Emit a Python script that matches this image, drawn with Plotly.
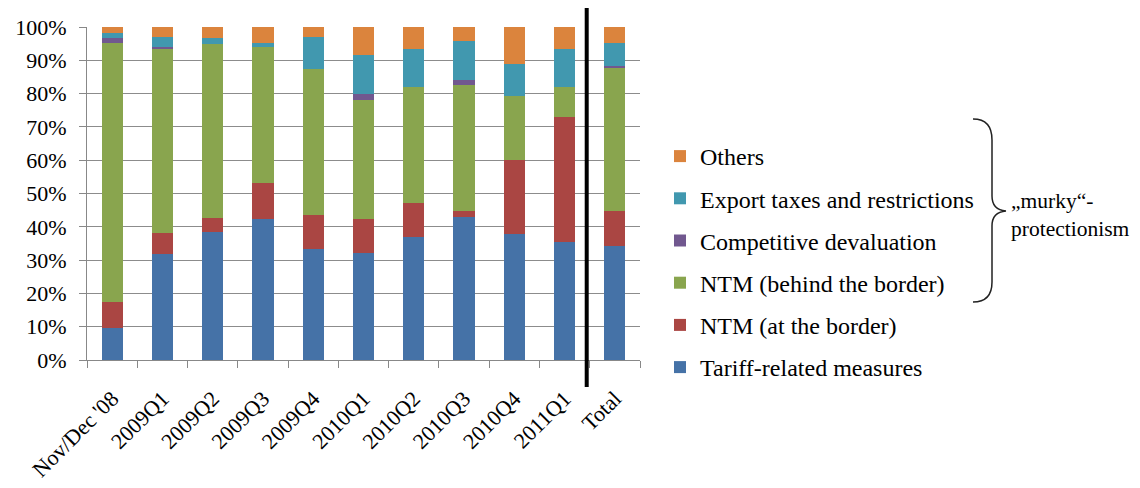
import plotly.graph_objects as go

# periods on the x axis
periods = ["Nov/Dec '08", "2009Q1", "2009Q2", "2009Q3", "2009Q4", "2010Q1",
           "2010Q2", "2010Q3", "2010Q4", "2011Q1", "Total"]

# shares in percent (bottom to top)
tariff = [9.5, 31.7, 38.5, 42.3, 33.2, 32.0, 36.8, 42.8, 37.8, 35.3, 34.3]
ntm_border = [8.0, 6.3, 4.2, 10.9, 10.3, 10.3, 10.3, 2.0, 22.3, 37.8, 10.5]
ntm_behind = [77.6, 55.3, 52.3, 40.9, 43.9, 35.8, 34.8, 37.7, 19.2, 9.0, 43.0]
devaluation = [1.7, 0.8, 0.0, 0.0, 0.0, 1.8, 0.0, 1.6, 0.0, 0.0, 0.5]
export = [1.5, 3.0, 1.8, 1.0, 9.7, 11.6, 11.5, 11.7, 9.5, 11.2, 6.8]
others = [1.7, 2.9, 3.2, 4.9, 2.9, 8.5, 6.6, 4.2, 11.2, 6.7, 4.9]

series = [
    ("Tariff-related measures", tariff, "#4572A7"),
    ("NTM (at the border)", ntm_border, "#AA4643"),
    ("NTM (behind the border)", ntm_behind, "#89A54E"),
    ("Competitive devaluation", devaluation, "#71588F"),
    ("Export taxes and restrictions", export, "#4198AF"),
    ("Others", others, "#DB843D"),
]

FONT = "Liberation Serif"
# the page body has an 8px margin, so the figure is drawn 8px in from the corner
OFF = 8
W, H = 1140 - OFF, 488 - OFF
L, T = 87 - OFF, 27 - OFF
R, B = W - (640 - OFF), H - (360 - OFF)


def px_x(px):
    """Screen pixel x -> paper x."""
    return (px - OFF - L) / (W - L - R)


def px_y(py):
    """Screen pixel y -> paper y."""
    return (H - B - (py - OFF)) / (H - T - B)


fig = go.Figure()
for rank, (name, values, color) in enumerate(series):
    fig.add_trace(go.Bar(
        x=periods,
        y=values,
        name=name,
        legendgroup=name,
        legendrank=len(series) - rank,
        marker={'color': color, 'line': {'width': 0}},
    ))

# thick separator before the Total column
fig.add_shape(type='line', xref='x', yref='paper', x0=9.44, x1=9.44,
              y0=px_y(387), y1=px_y(3), line={'color': 'black', 'width': 4})

# curly brace grouping the "murky" protectionism measures
brace = (
    f"M{px_x(973)},{px_y(119)} "
    f"Q{px_x(992)},{px_y(119)} {px_x(992)},{px_y(140)} "
    f"L{px_x(992)},{px_y(196)} "
    f"Q{px_x(992)},{px_y(210)} {px_x(1006)},{px_y(211)} "
    f"Q{px_x(992)},{px_y(212)} {px_x(992)},{px_y(226)} "
    f"L{px_x(992)},{px_y(282)} "
    f"Q{px_x(992)},{px_y(302)} {px_x(973)},{px_y(302)}"
)
fig.add_shape(type='path', xref='paper', yref='paper', path=brace,
              line={'color': '#222222', 'width': 1.5})
fig.add_annotation(
    xref='paper', yref='paper', x=px_x(1009), y=px_y(215),
    xanchor='left', yanchor='middle', showarrow=False, align='left',
    text='„murky“-<br>protectionism',
    font={'family': FONT, 'size': 21.5, 'color': 'black'},
)

fig.update_layout(
    width=W,
    height=H,
    barmode='stack',
    bargap=0.58,
    paper_bgcolor='white',
    plot_bgcolor='white',
    margin={'l': L, 'r': R, 't': T, 'b': B, 'pad': 0, 'autoexpand': False},
    font={'family': FONT, 'size': 22, 'color': 'black'},
    legend={
        'x': px_x(660),
        'y': px_y(134),
        'xanchor': 'left',
        'yanchor': 'top',
        'traceorder': 'grouped',
        'tracegroupgap': 8,
        'itemwidth': 30,
        'font': {'family': FONT, 'size': 24, 'color': 'black'},
        'bgcolor': 'rgba(0,0,0,0)',
    },
    xaxis={
        'type': 'category',
        'tickangle': -45,
        'tickson': 'boundaries',
        'ticks': 'outside',
        'ticklen': 7,
        'ticklabelstandoff': 16,
        'tickcolor': '#888888',
        'showline': True,
        'linecolor': '#888888',
        'showgrid': False,
        'tickfont': {'family': FONT, 'size': 22, 'color': 'black'},
    },
    yaxis={
        'range': [0, 100],
        'dtick': 10,
        'ticksuffix': '%',
        'ticks': 'outside',
        'ticklen': 7,
        'ticklabelstandoff': 8,
        'tickcolor': '#888888',
        'showline': True,
        'linecolor': '#888888',
        'showgrid': True,
        'gridcolor': '#8c8c8c',
        'gridwidth': 1,
        'zeroline': False,
        'tickfont': {'family': FONT, 'size': 22, 'color': 'black'},
    },
)

fig.write_html("out.html")
